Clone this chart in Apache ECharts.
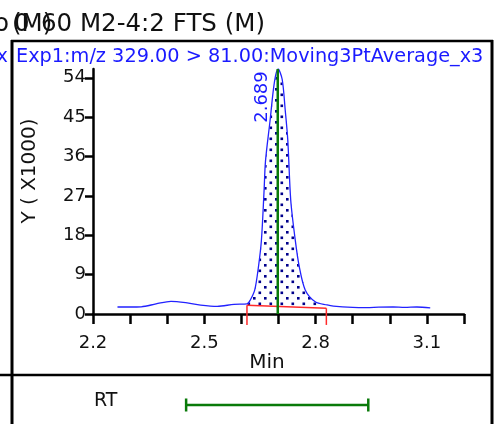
<!DOCTYPE html>
<html>
<head>
<meta charset="utf-8">
<script src="https://cdn.jsdelivr.net/npm/echarts@6/dist/echarts.min.js"></script>
<style>
    html, body { margin: 0; padding: 0; background: #fff; }
    #chart { width: 501px; height: 424px; }
</style>
</head>
<body>
<div id="chart"></div>
<script>
// chromatogram trace, retention time (min) vs intensity (x1000)
var rtMin = [2.266, 2.300, 2.330, 2.370, 2.410, 2.450, 2.490, 2.535, 2.580, 2.615,
    2.624, 2.636, 2.646, 2.654, 2.661, 2.665, 2.677, 2.689, 2.699, 2.710,
    2.718, 2.725, 2.733, 2.745, 2.756, 2.772, 2.799, 2.831, 2.848, 2.900,
    2.938, 2.970, 3.009, 3.040, 3.073, 3.109];
var intensity = [1.6, 1.6, 1.65, 2.3, 2.9, 2.6, 2.05, 1.75, 2.2, 2.3,
    3.2, 5.5, 10.8, 16.9, 28.0, 35.0, 44.0, 53.0, 56.0, 53.6,
    46.7, 39.8, 26.0, 17.0, 10.8, 5.5, 2.8, 2.06, 1.8, 1.5,
    1.45, 1.55, 1.6, 1.5, 1.6, 1.4];

// integration baseline (red) and its end markers
var blRt = [2.615, 2.829];
var blLevel = [2.0, 1.3];
var blDrop = -2.5;

// apex marker
var apexRt = 2.698;
var apexLevel = 56;
var apexLabel = '2.689';

// RT window shown under the chart
var rtWindow = [2.451, 2.942];

var yTicks = [0, 9, 18, 27, 36, 45, 54];
var xTicks = [2.2, 2.3, 2.4, 2.5, 2.6, 2.7, 2.8, 2.9, 3.0, 3.1, 3.2];
var xLabels = [2.2, 2.5, 2.8, 3.1];

var FONT = 'DejaVu Sans';

var chart = echarts.init(document.getElementById('chart'), null, {renderer: 'canvas'});

// dotted fill used for the integrated area
var pat = document.createElement('canvas');
pat.width = 11;
pat.height = 11;
var pctx = pat.getContext('2d');
pctx.fillStyle = '#00008b';
pctx.fillRect(0, 0, 2.6, 2.6);
pctx.fillRect(5.5, 5.5, 2.6, 2.6);

var tracePoints = [];
for (var i = 0; i < rtMin.length; i++) {
    tracePoints.push([rtMin[i], intensity[i]]);
}

function renderFill(params, api) {
    if (params.dataIndex > 0) return;
    var pts = [api.coord([blRt[0], blLevel[0]])];
    for (var i = 0; i < rtMin.length; i++) {
        if (rtMin[i] > blRt[0] && rtMin[i] < blRt[1]) {
            pts.push(api.coord([rtMin[i], intensity[i]]));
        }
    }
    pts.push(api.coord([blRt[1], blLevel[1]]));
    return {
        type: 'polygon',
        shape: {points: pts},
        style: {fill: {image: pat, repeat: 'repeat'}, stroke: null}
    };
}

function renderBaseline(params, api) {
    var a = api.coord([blRt[0], blLevel[0]]);
    var b = api.coord([blRt[1], blLevel[1]]);
    var a2 = api.coord([blRt[0], blDrop]);
    var b2 = api.coord([blRt[1], blDrop]);
    var st = {stroke: '#ff2a2a', lineWidth: 1.5};
    return {
        type: 'group',
        children: [
            {type: 'line', shape: {x1: a[0], y1: a[1], x2: b[0], y2: b[1]}, style: st},
            {type: 'line', shape: {x1: a[0], y1: a[1], x2: a2[0], y2: a2[1]}, style: st},
            {type: 'line', shape: {x1: b[0], y1: b[1], x2: b2[0], y2: b2[1]}, style: st}
        ]
    };
}

function renderApexLabel(params, api) {
    var p = api.coord([apexRt, apexLevel]);
    return {
        type: 'text',
        x: p[0] - 15,
        y: p[1] + 28,
        rotation: Math.PI / 2,
        style: {
            text: apexLabel,
            fill: '#1a1aff',
            font: '18px "' + FONT + '"',
            align: 'center',
            verticalAlign: 'middle'
        }
    };
}

function txt(x, y, s, size, color, align, rot) {
    return {
        type: 'text',
        x: x,
        y: y,
        rotation: rot || 0,
        style: {
            text: s,
            fill: color,
            font: size + 'px "' + FONT + '"',
            align: align || 'left',
            verticalAlign: 'middle'
        }
    };
}

function hline(x1, x2, y, w) {
    return {type: 'line', shape: {x1: x1, y1: y, x2: x2, y2: y}, style: {stroke: '#000', lineWidth: w}};
}
function vline(x, y1, y2, w) {
    return {type: 'line', shape: {x1: x, y1: y1, x2: x, y2: y2}, style: {stroke: '#000', lineWidth: w}};
}

var option = {
    animation: false,
    backgroundColor: '#fff',
    textStyle: {fontFamily: FONT},
    graphic: [
        txt(9, 25, 'o', 24.5, '#111', 'right'),
        txt(12, 25, '(M)', 24.5, '#111'),
        txt(14, 25, '0', 24.5, '#111'),
        txt(41, 25, '60 M2-4:2 FTS (M)', 24.5, '#111'),
        vline(12, 40, 424, 3),
        vline(492, 40, 424, 3),
        hline(11, 493, 41, 2.5),
        hline(0, 493, 375, 2.5),
        txt(8, 57, 'x', 19.3, '#1a1aff', 'right'),
        txt(16, 57, 'Exp1:m/z 329.00 > 81.00:Moving3PtAverage_x3', 19.3, '#1a1aff'),
        txt(30, 171, 'Y ( X1000)', 20, '#111', 'center', Math.PI / 2),
        txt(267, 363, 'Min', 20, '#111', 'center'),
        txt(94, 401, 'RT', 19, '#111')
    ],
    grid: [
        {left: 93, right: 37, top: 69, height: 245},
        {left: 93, right: 37, top: 395, height: 20}
    ],
    xAxis: [
        {
            type: 'value',
            gridIndex: 0,
            min: 2.2,
            max: 3.2,
            splitLine: {show: false},
            axisLine: {onZero: false, lineStyle: {color: '#000', width: 2.5}},
            axisTick: {customValues: xTicks, length: 10, lineStyle: {color: '#000', width: 2.5}},
            axisLabel: {
                customValues: xLabels,
                margin: 20,
                color: '#111',
                fontSize: 18,
                fontFamily: FONT,
                formatter: function (v) { return v.toFixed(1); }
            }
        },
        {
            type: 'value',
            gridIndex: 1,
            min: 2.2,
            max: 3.2,
            show: false
        }
    ],
    yAxis: [
        {
            type: 'value',
            gridIndex: 0,
            min: 0,
            max: 56,
            splitLine: {show: false},
            axisLine: {show: true, lineStyle: {color: '#000', width: 2.5}},
            axisTick: {show: true, customValues: yTicks, length: 8, lineStyle: {color: '#000', width: 2.5}},
            axisLabel: {customValues: yTicks, margin: 7, color: '#111', fontSize: 18, fontFamily: FONT}
        },
        {
            type: 'value',
            gridIndex: 1,
            min: 0,
            max: 1,
            show: false
        }
    ],
    series: [
        {
            type: 'custom',
            name: 'area',
            xAxisIndex: 0,
            yAxisIndex: 0,
            renderItem: renderFill,
            data: [[blRt[0], blLevel[0]]],
            z: 1
        },
        {
            type: 'line',
            name: 'trace',
            xAxisIndex: 0,
            yAxisIndex: 0,
            data: tracePoints,
            showSymbol: false,
            smooth: 0.3,
            lineStyle: {color: '#2222ff', width: 1.3},
            z: 3
        },
        {
            type: 'custom',
            name: 'baseline',
            xAxisIndex: 0,
            yAxisIndex: 0,
            renderItem: renderBaseline,
            data: [[blRt[0], blLevel[0]]],
            clip: false,
            z: 4
        },
        {
            type: 'line',
            name: 'apex',
            xAxisIndex: 0,
            yAxisIndex: 0,
            data: [[apexRt, 0], [apexRt, apexLevel]],
            showSymbol: false,
            lineStyle: {color: '#0a7a0a', width: 2.5},
            z: 5
        },
        {
            type: 'custom',
            name: 'apexLabel',
            xAxisIndex: 0,
            yAxisIndex: 0,
            renderItem: renderApexLabel,
            data: [[apexRt, apexLevel]],
            clip: false,
            z: 6
        },
        {
            type: 'line',
            name: 'RT',
            xAxisIndex: 1,
            yAxisIndex: 1,
            data: [[rtWindow[0], 0.5], [rtWindow[1], 0.5]],
            symbol: 'rect',
            symbolSize: [2.5, 13],
            showSymbol: true,
            itemStyle: {color: '#0a7a0a'},
            lineStyle: {color: '#0a7a0a', width: 2.5}
        }
    ]
};

chart.setOption(option);
</script>
</body>
</html>
